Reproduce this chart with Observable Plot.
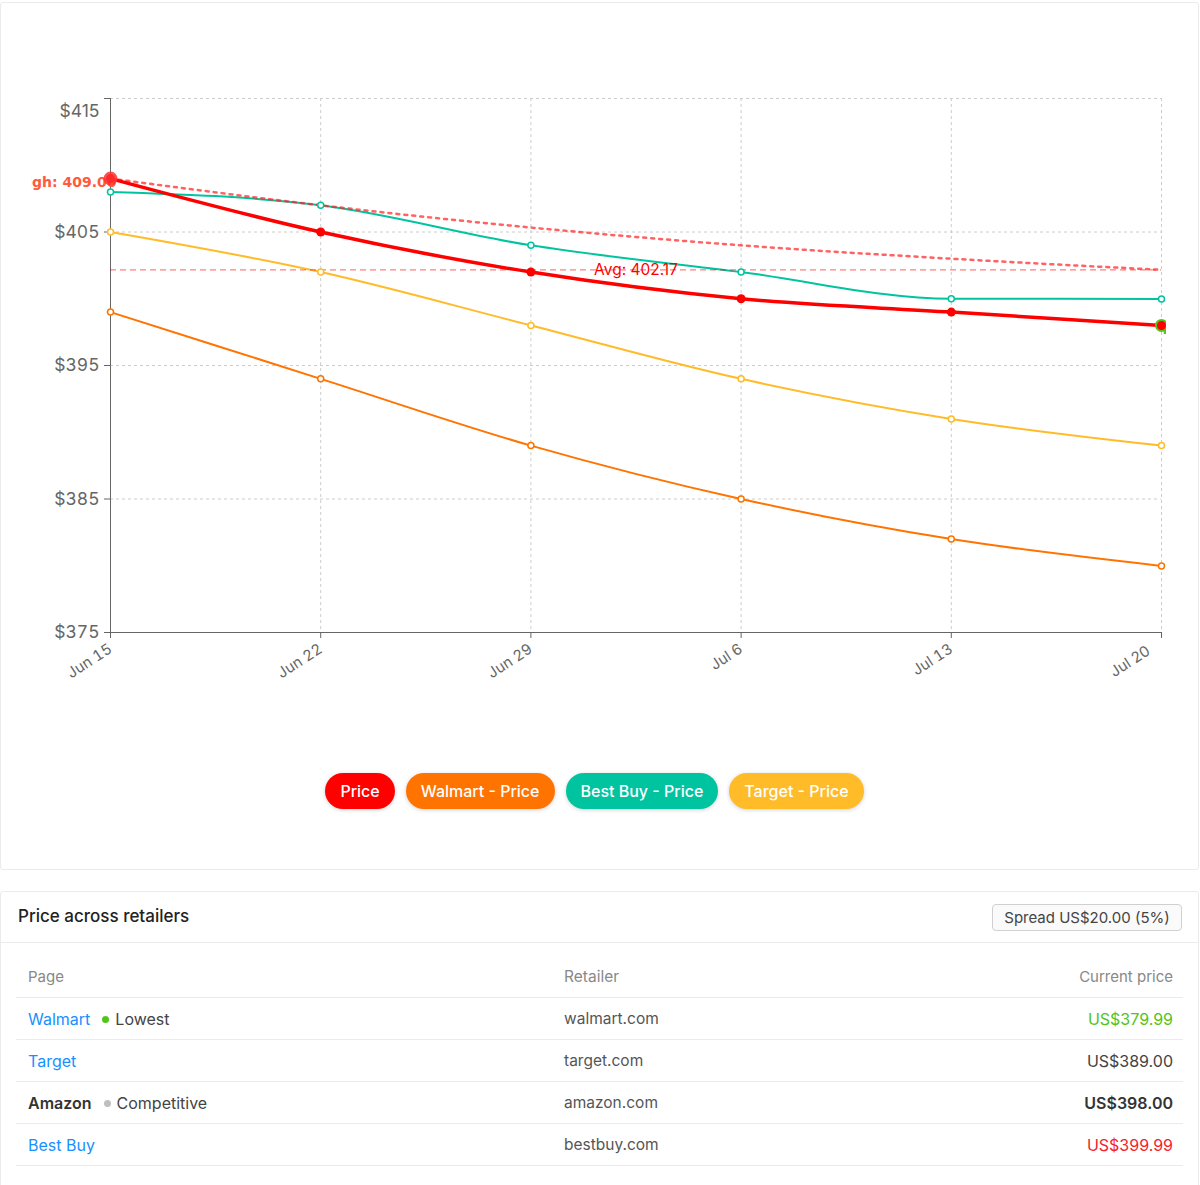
<!DOCTYPE html>
<html><head><meta charset="utf-8">
<script src="https://cdn.jsdelivr.net/npm/d3@7"></script>
<script src="https://cdn.jsdelivr.net/npm/@observablehq/plot@0.6"></script>
<style>
body{margin:0;background:#fff;font-family:Inter,"Liberation Sans",Arial,sans-serif;color:#333;}
.card1{position:absolute;left:0;top:2px;width:1197px;height:866px;border:1px solid #ebebeb;border-radius:3px;}
#chart{position:absolute;left:31px;top:30px;}
#chart svg{overflow:hidden;}
.legend{position:absolute;top:773px;left:0;width:1189px;display:flex;justify-content:center;gap:11px;}
.pill{height:36px;line-height:36px;border-radius:18px;color:#fff;font-family:Inter,sans-serif;font-size:16px;font-weight:500;padding:0 15px;box-shadow:0 1px 4px rgba(0,0,0,.18);}
.card2{position:absolute;left:0;top:891px;width:1197px;height:300px;border:1px solid #ebebeb;border-radius:3px;}
.head{position:absolute;left:0;top:0;width:1197px;height:50px;border-bottom:1px solid #ebebeb;}
.title{position:absolute;left:17px;top:14px;font-size:17px;font-weight:500;color:#222;}
.spread{position:absolute;left:991px;top:12px;width:188px;height:25px;border:1px solid #d0d0d0;border-radius:4px;background:#fafafa;font-size:15px;line-height:25px;text-align:center;color:#444;}
.row{position:absolute;left:15px;width:1167px;height:41px;border-bottom:1px solid #ebebeb;font-size:16px;}
.row div{position:absolute;top:0;line-height:42px;}
.c1{left:12px;} .c2{left:548px;color:#555;font-size:15.5px;} .c3{right:10px;text-align:right;color:#444;}
.hdr{font-size:15px;}
.hdr div{color:#888;}
a{color:#1890ff;text-decoration:none;}
.dot{display:inline-block;width:7px;height:7px;border-radius:50%;margin:0 6px 2px 12px;vertical-align:middle;}
.badge{color:#444;}
</style></head>
<body>
<div class="card1">
</div>
<div id="chart"></div>
<div class="legend" id="legend"></div>
<div class="card2" id="card2">
  <div class="head"><div class="title">Price across retailers</div><div class="spread" id="spread"></div></div>
</div>
<script>
const dates = ["2025-06-15","2025-06-22","2025-06-29","2025-07-06","2025-07-13","2025-07-20"];
const price = [409, 405, 402, 400, 399, 398];
const walmartPrice = [399, 394, 389, 385, 382, 379.99];
const bestBuyPrice = [408, 407, 404, 402, 400, 399.99];
const targetPrice = [405, 402, 398, 394, 391, 389];
const yTicks = [375, 385, 395, 405, 415];
const seriesNames = ["Price", "Walmart - Price", "Best Buy - Price", "Target - Price"];
const seriesColors = ["#ff0000", "#ff7300", "#00c49f", "#ffbb28"];

const retailers = ["Walmart", "Target", "Amazon", "Best Buy"];
const domains = ["walmart.com", "target.com", "amazon.com", "bestbuy.com"];
const currentPrices = [379.99, 389.00, 398.00, 399.99];
const badges = ["Lowest", "", "Competitive", ""];

const D = dates.map(d => new Date(d + "T00:00:00Z"));
const fmt = d3.utcFormat("%b %-d");
const mk = vals => vals.map((v, i) => ({date: D[i], v}));
const P = mk(price), W = mk(walmartPrice), B = mk(bestBuyPrice), T = mk(targetPrice);
const avg = d3.mean(price);
let s = 0;
const cum = price.map((v, i) => { s += v; return {date: D[i], v: s / (i + 1)}; });
const hi = P[d3.maxIndex(price)], lo = P[d3.minIndex(price)];
const lastD = D[D.length - 1];
const midD = new Date((D[0].getTime() + lastD.getTime()) / 2);
const topTick = yTicks[yTicks.length - 1];

const chart = Plot.plot({
  width: 1135, height: 692,
  marginLeft: 79, marginRight: 5, marginTop: 68, marginBottom: 90,
  style: {fontFamily: "Inter, 'Liberation Sans', Arial, sans-serif", background: "transparent", overflow: "hidden"},
  x: {type: "utc", domain: [D[0], lastD]},
  y: {domain: [yTicks[0], topTick]},
  marks: [
    Plot.gridX(D, {stroke: "#ccc", strokeOpacity: 1, strokeDasharray: "3,3"}),
    Plot.gridY(yTicks, {stroke: "#ccc", strokeOpacity: 1, strokeDasharray: "3,3"}),
    Plot.ruleX([D[0]], {stroke: "#666"}),
    Plot.ruleY([yTicks[0]], {stroke: "#666"}),
    Plot.axisY({ticks: yTicks, tickFormat: d => d === topTick ? "" : "$" + d, fontSize: 17.5, color: "#666", tickSize: 6, tickPadding: 5, label: null}),
    Plot.text([topTick], {x: () => D[0], y: d => d, text: d => "$" + d, dx: -11, dy: 13, textAnchor: "end", fontSize: 17.5, fill: "#666"}),
    Plot.axisX({ticks: D, tickFormat: d => d.getTime() === lastD.getTime() ? "" : fmt(d), tickRotate: -33, fontSize: 15, color: "#666", tickSize: 6, tickPadding: 9, label: null}),
    Plot.text([lastD], {x: d => d, y: () => yTicks[0], text: d => fmt(d), rotate: -33, textAnchor: "end", lineAnchor: "middle", dx: -13, dy: 17, fontSize: 15, fill: "#666"}),
    Plot.line(W, {x: "date", y: "v", stroke: seriesColors[1], strokeWidth: 2, curve: "monotone-x"}),
    Plot.line(B, {x: "date", y: "v", stroke: seriesColors[2], strokeWidth: 2, curve: "monotone-x"}),
    Plot.line(T, {x: "date", y: "v", stroke: seriesColors[3], strokeWidth: 2, curve: "monotone-x"}),
    Plot.ruleY([avg], {x1: D[0], x2: lastD, stroke: "#ff0000", strokeOpacity: 0.5, strokeDasharray: "6,4", strokeWidth: 1.2}),
    Plot.line(cum, {x: "date", y: "v", stroke: "#ff2020", strokeOpacity: 0.7, strokeWidth: 2.5, strokeDasharray: "3,5", curve: "monotone-x"}),
    Plot.line(P, {x: "date", y: "v", stroke: seriesColors[0], strokeWidth: 3.5, curve: "monotone-x"}),
    Plot.dot(W, {x: "date", y: "v", r: 3, fill: "white", stroke: seriesColors[1], strokeWidth: 1.5}),
    Plot.dot(B, {x: "date", y: "v", r: 3, fill: "white", stroke: seriesColors[2], strokeWidth: 1.5}),
    Plot.dot(T, {x: "date", y: "v", r: 3, fill: "white", stroke: seriesColors[3], strokeWidth: 1.5}),
    Plot.text([hi], {x: "date", y: "v", text: d => "High: " + d.v.toFixed(2), textAnchor: "end", dx: 6, dy: 4, fill: "#ff5a3c", fontWeight: "bold", fontSize: 14, fontFamily: "'DejaVu Sans', sans-serif"}),
    Plot.text([lo], {x: "date", y: "v", text: d => "Low: " + d.v.toFixed(2), textAnchor: "start", dx: 1, dy: 4, fill: "#52c41a", fontWeight: "bold", fontSize: 14, fontFamily: "'DejaVu Sans', sans-serif"}),
    Plot.dot(P, {x: "date", y: "v", r: 4.5, fill: seriesColors[0]}),
    Plot.dot([hi], {x: "date", y: "v", r: 7, fill: "#ff3030", fillOpacity: 0.85}),
    Plot.dot([lo], {x: "date", y: "v", r: 5.5, fill: seriesColors[0], stroke: "#52c41a", strokeWidth: 2}),
    Plot.text([avg], {x: () => midD, y: d => d, text: d => "Avg: " + d.toFixed(2), fill: "#ff0000", fontSize: 15.5, lineAnchor: "middle"})
  ]
});
document.getElementById("chart").appendChild(chart);

const lg = document.getElementById("legend");
seriesNames.forEach((n, i) => {
  const p = document.createElement("div");
  p.className = "pill"; p.style.background = seriesColors[i]; p.textContent = n;
  lg.appendChild(p);
});

const mn = d3.min(currentPrices), mx = d3.max(currentPrices);
document.getElementById("spread").textContent = "Spread US$" + (mx - mn).toFixed(2) + " (" + Math.round((mx - mn) / mx * 100) + "%)";

const card = document.getElementById("card2");
const hdr = document.createElement("div");
hdr.className = "row hdr"; hdr.style.top = "64px";
hdr.innerHTML = '<div class="c1">Page</div><div class="c2">Retailer</div><div class="c3">Current price</div>';
card.appendChild(hdr);
retailers.forEach((r, i) => {
  const row = document.createElement("div");
  row.className = "row"; row.style.top = (106 + i * 42) + "px";
  const isAmz = r === "Amazon";
  const name = isAmz ? '<b style="color:#333;font-weight:600">' + r + '</b>' : '<a>' + r + '</a>';
  let badge = "";
  if (badges[i]) {
    const c = badges[i] === "Lowest" ? "#52c41a" : "#bfbfbf";
    badge = '<span class="dot" style="background:' + c + '"></span><span class="badge">' + badges[i] + '</span>';
  }
  const v = currentPrices[i];
  const pc = v === mn ? "color:#52c41a" : v === mx ? "color:#f5222d" : isAmz ? "color:#333;font-weight:600" : "color:#444";
  row.innerHTML = '<div class="c1">' + name + badge + '</div><div class="c2">' + domains[i] + '</div><div class="c3" style="' + pc + '">US$' + v.toFixed(2) + '</div>';
  card.appendChild(row);
});
</script>
</body></html>
